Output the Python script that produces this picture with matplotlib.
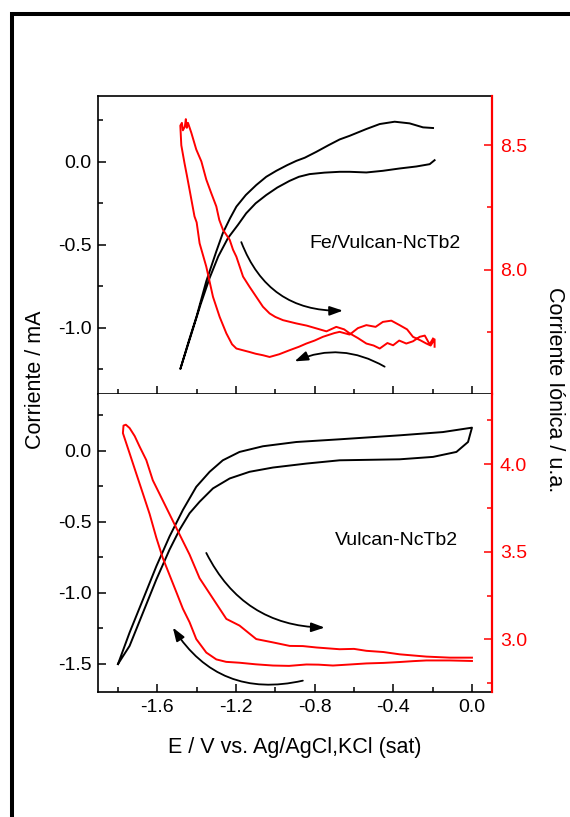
"""Cyclic voltammograms with ionic current (Fe/Vulcan-NcTb2 and Vulcan-NcTb2)."""

import matplotlib

matplotlib.use("Agg")
import matplotlib.pyplot as plt
from matplotlib.patches import Rectangle
from matplotlib.ticker import FixedLocator, FormatStrFormatter

plt.rcParams["font.family"] = ["Liberation Sans", "DejaVu Sans"]
plt.rcParams["axes.unicode_minus"] = False

RED = "#ff0000"

# ---- top panel: Fe/Vulcan-NcTb2 ----
top_cv_E = [-0.198, -0.249, -0.317, -0.393, -0.469, -0.537, -0.622, -0.673, -0.730,
            -0.792, -0.850, -0.893, -0.940, -0.995, -1.046, -1.097, -1.150, -1.198,
            -1.230, -1.267, -1.300, -1.351, -1.400, -1.440, -1.483,
            -1.430, -1.380, -1.334, -1.290, -1.241, -1.190, -1.148, -1.100, -1.046,
            -0.990, -0.928, -0.880, -0.826, -0.750, -0.673, -0.622, -0.537, -0.453,
            -0.368, -0.283, -0.215, -0.190]
top_cv_I = [0.204, 0.208, 0.232, 0.242, 0.228, 0.198, 0.157, 0.135, 0.100,
            0.060, 0.025, 0.006, -0.020, -0.054, -0.090, -0.140, -0.200, -0.270,
            -0.340, -0.430, -0.540, -0.720, -0.930, -1.080, -1.249,
            -1.050, -0.860, -0.700, -0.570, -0.460, -0.380, -0.310, -0.250, -0.200,
            -0.155, -0.115, -0.090, -0.074, -0.065, -0.060, -0.060, -0.064, -0.054,
            -0.040, -0.028, -0.014, 0.010]

top_ion_E = [-0.198, -0.215, -0.240, -0.266, -0.300, -0.334, -0.370, -0.401, -0.430,
             -0.469, -0.500, -0.537, -0.580, -0.622, -0.650, -0.690, -0.740, -0.792,
             -0.840, -0.894, -0.961, -1.000, -1.029, -1.063, -1.097, -1.131, -1.164,
             -1.198, -1.215, -1.232, -1.266, -1.285, -1.300, -1.326, -1.351, -1.376,
             -1.402, -1.427, -1.444, -1.450, -1.455, -1.460, -1.470, -1.475, -1.483,
             -1.478, -1.462, -1.450, -1.436, -1.411, -1.400, -1.385, -1.351, -1.317,
             -1.283, -1.249, -1.220, -1.198, -1.160, -1.131, -1.100, -1.063, -1.029,
             -0.980, -0.928, -0.880, -0.842, -0.800, -0.758, -0.700, -0.673, -0.622,
             -0.580, -0.537, -0.490, -0.453, -0.410, -0.368, -0.330, -0.300, -0.260,
             -0.232, -0.210, -0.190, -0.190]
top_ion_v = [7.723, 7.700, 7.735, 7.730, 7.712, 7.703, 7.715, 7.696, 7.705,
             7.683, 7.695, 7.703, 7.725, 7.744, 7.760, 7.770, 7.752, 7.764,
             7.775, 7.784, 7.797, 7.810, 7.824, 7.851, 7.891, 7.931, 7.972,
             8.052, 8.080, 8.120, 8.160, 8.200, 8.254, 8.308, 8.362, 8.435,
             8.483, 8.550, 8.590, 8.570, 8.605, 8.575, 8.560, 8.590, 8.579,
             8.500, 8.429, 8.380, 8.321, 8.214, 8.190, 8.106, 8.012, 7.891,
             7.810, 7.744, 7.700, 7.683, 7.675, 7.669, 7.662, 7.656, 7.649,
             7.660, 7.676, 7.690, 7.703, 7.715, 7.730, 7.745, 7.750, 7.739,
             7.765, 7.777, 7.770, 7.790, 7.795, 7.777, 7.760, 7.730, 7.715,
             7.703, 7.695, 7.720, 7.690]

# ---- bottom panel: Vulcan-NcTb2 ----
bot_cv_E = [-1.800, -1.741, -1.673, -1.605, -1.538, -1.470, -1.402, -1.334, -1.267,
            -1.182, -1.063, -0.893, -0.673, -0.368, -0.148, 0.000, -0.020, -0.079,
            -0.198, -0.368, -0.673, -0.842, -1.012, -1.131, -1.232, -1.317, -1.385,
            -1.436, -1.487, -1.538, -1.605, -1.673, -1.741, -1.800]
bot_cv_I = [-1.503, -1.281, -1.048, -0.814, -0.604, -0.417, -0.254, -0.148, -0.067,
            -0.008, 0.032, 0.062, 0.081, 0.109, 0.132, 0.163, 0.062, -0.008,
            -0.043, -0.060, -0.067, -0.090, -0.118, -0.148, -0.195, -0.265, -0.359,
            -0.440, -0.557, -0.697, -0.907, -1.141, -1.375, -1.503]

bot_ion_E = [0.000, -0.113, -0.232, -0.300, -0.368, -0.450, -0.537, -0.620, -0.707,
             -0.780, -0.842, -0.930, -1.012, -1.100, -1.182, -1.250, -1.300, -1.351,
             -1.402, -1.436, -1.470, -1.504, -1.538, -1.572, -1.605, -1.639, -1.673,
             -1.707, -1.741, -1.775, -1.772, -1.760, -1.741, -1.715, -1.690, -1.656,
             -1.623, -1.589, -1.538, -1.487, -1.436, -1.385, -1.317, -1.249, -1.182,
             -1.097, -1.012, -0.927, -0.860, -0.791, -0.673, -0.600, -0.537, -0.450,
             -0.368, -0.232, -0.113, 0.000]
bot_ion_v = [2.877, 2.880, 2.880, 2.876, 2.871, 2.866, 2.863, 2.857, 2.851,
             2.856, 2.857, 2.849, 2.851, 2.858, 2.867, 2.872, 2.886, 2.925,
             3.002, 3.098, 3.175, 3.272, 3.368, 3.464, 3.580, 3.715, 3.831,
             3.946, 4.062, 4.177, 4.220, 4.225, 4.206, 4.160, 4.100, 4.023,
             3.908, 3.831, 3.715, 3.599, 3.484, 3.349, 3.233, 3.117, 3.079,
             3.002, 2.983, 2.963, 2.962, 2.954, 2.944, 2.946, 2.935, 2.928,
             2.915, 2.902, 2.896, 2.896]

x_major = [-1.6, -1.2, -0.8, -0.4, 0.0]
x_minor = [-1.8, -1.4, -1.0, -0.6, -0.2]


def style_axes(ax, twin, y_major, y_minor, twin_major, twin_minor, bottom_labels):
    ax.set_xlim(-1.9, 0.1)
    ax.xaxis.set_major_locator(FixedLocator(x_major))
    ax.xaxis.set_minor_locator(FixedLocator(x_minor))
    ax.yaxis.set_major_locator(FixedLocator(y_major))
    ax.yaxis.set_minor_locator(FixedLocator(y_minor))
    ax.xaxis.set_major_formatter(FormatStrFormatter("%.1f"))
    ax.yaxis.set_major_formatter(FormatStrFormatter("%.1f"))
    ax.tick_params(which="both", direction="in", width=1.1, labelsize=14,
                   top=False, right=False, labelbottom=bottom_labels)
    ax.tick_params(axis="x", which="both", bottom=True)
    ax.tick_params(which="major", length=6, pad=5)
    ax.tick_params(which="minor", length=3.5)
    for side in ("left", "bottom", "top"):
        ax.spines[side].set_linewidth(1.2)
    ax.spines["right"].set_visible(False)

    twin.yaxis.set_major_locator(FixedLocator(twin_major))
    twin.yaxis.set_minor_locator(FixedLocator(twin_minor))
    twin.yaxis.set_major_formatter(FormatStrFormatter("%.1f"))
    twin.tick_params(which="both", direction="in", width=1.1, labelsize=14,
                     colors=RED)
    twin.tick_params(which="major", length=6, pad=6)
    twin.tick_params(which="minor", length=3.5)
    twin.spines["right"].set_color(RED)
    twin.spines["right"].set_linewidth(1.6)
    for side in ("left", "bottom", "top"):
        twin.spines[side].set_visible(False)


fig = plt.figure(figsize=(5.7, 8.17), dpi=100)

ax_top = fig.add_axes([0.1725, 0.5177, 0.690, 0.3654])
ax_top_r = ax_top.twinx()
ax_bot = fig.add_axes([0.1725, 0.1530, 0.690, 0.3647])
ax_bot_r = ax_bot.twinx()

ax_top.plot(top_cv_E, top_cv_I, color="black", lw=1.4)
ax_top_r.plot(top_ion_E, top_ion_v, color=RED, lw=1.4)
ax_top.set_ylim(-1.4, 0.4)
ax_top_r.set_ylim(7.5, 8.7)
style_axes(ax_top, ax_top_r, [-1.0, -0.5, 0.0], [-1.25, -0.75, -0.25, 0.25],
           [8.0, 8.5], [7.75, 8.25], False)

ax_bot.plot(bot_cv_E, bot_cv_I, color="black", lw=1.4)
ax_bot_r.plot(bot_ion_E, bot_ion_v, color=RED, lw=1.4)
ax_bot.set_ylim(-1.7, 0.4)
ax_bot_r.set_ylim(2.7, 4.4)
style_axes(ax_bot, ax_bot_r, [-1.5, -1.0, -0.5, 0.0], [-1.25, -0.75, -0.25, 0.25],
           [3.0, 3.5, 4.0], [2.75, 3.25, 3.75, 4.25], True)
ax_bot.spines["top"].set_visible(False)

# sweep direction arrows
arrow_kw = dict(arrowstyle="-|>,head_length=0.8,head_width=0.28", color="black",
                lw=1.3, mutation_scale=10, shrinkA=0, shrinkB=0)
ax_top.annotate("", xy=(-0.656, -0.897), xytext=(-1.173, -0.484),
                arrowprops=dict(connectionstyle="arc3,rad=0.35", **arrow_kw))
ax_top.annotate("", xy=(-0.902, -1.203), xytext=(-0.444, -1.235),
                arrowprops=dict(connectionstyle="arc3,rad=0.25", **arrow_kw))
ax_bot.annotate("", xy=(-0.749, -1.246), xytext=(-1.351, -0.720),
                arrowprops=dict(connectionstyle="arc3,rad=0.3", **arrow_kw))
ax_bot.annotate("", xy=(-1.521, -1.246), xytext=(-0.860, -1.620),
                arrowprops=dict(connectionstyle="arc3,rad=-0.35", **arrow_kw))

ax_top.text(-0.44, -0.49, "Fe/Vulcan-NcTb2", fontsize=14, ha="center", va="center")
ax_bot.text(-0.386, -0.634, "Vulcan-NcTb2", fontsize=14, ha="center", va="center")

fig.text(0.5175, 0.0845, "E / V vs. Ag/AgCl,KCl (sat)", fontsize=15.5,
         ha="center", va="center")
fig.text(0.063, 0.535, "Corriente / mA", fontsize=15.5, rotation=90,
         ha="center", va="center")
fig.text(0.972, 0.5226, "Corriente Iónica / u.a.", fontsize=15.5, rotation=270,
         ha="center", va="center")

# thick frame on the left and top edges
fig.add_artist(Rectangle((11.5 / 570, -0.5), 2.0, 0.9826 + 0.5, transform=fig.transFigure,
                         fill=False, lw=2.9, edgecolor="black", joinstyle="miter"))

fig.savefig("out.png", dpi=100)
plt.close(fig)
